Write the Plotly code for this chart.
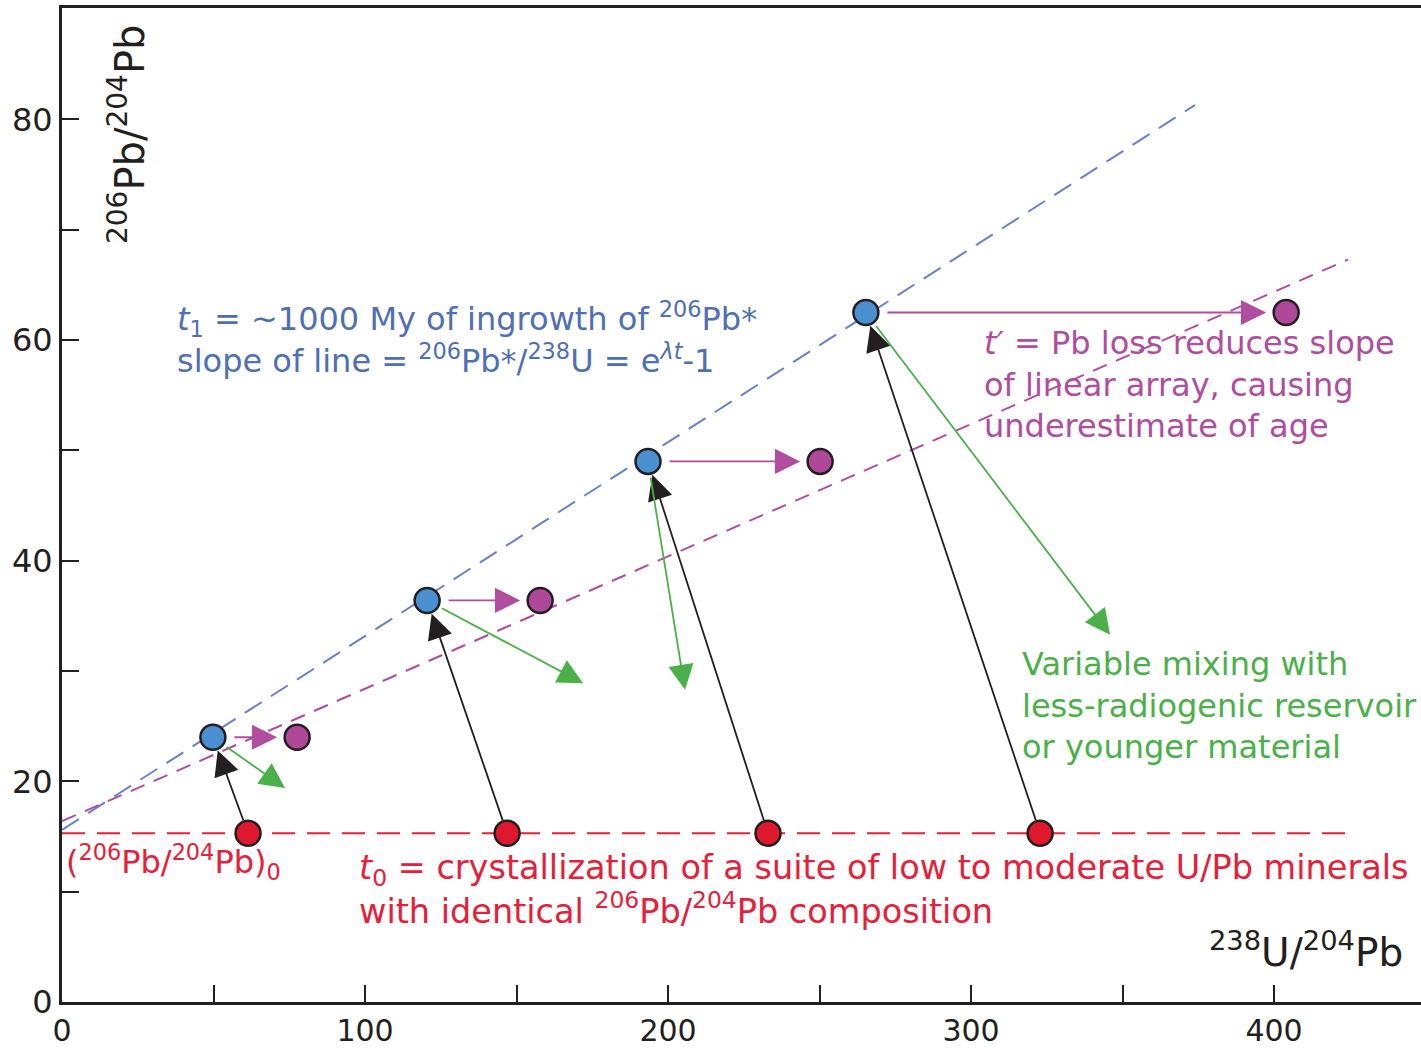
import plotly.graph_objects as go

# --- data -------------------------------------------------------------
# t0: crystallization, identical initial 206Pb/204Pb
u_pb_t0 = [61.4, 146.9, 233.0, 322.8]
pb_pb_t0 = [15.3, 15.3, 15.3, 15.3]

# t1: after ~1000 My of ingrowth
u_pb_t1 = [49.8, 120.5, 193.4, 265.3]
pb_pb_t1 = [24.0, 36.4, 49.0, 62.5]

# t': after Pb loss
u_pb_loss = [77.6, 157.8, 250.2, 404.0]
pb_pb_loss = [24.0, 36.4, 49.0, 62.5]

# end points of the mixing vectors
u_pb_mix = [73.6, 172.0, 205.6, 345.9]
pb_pb_mix = [19.4, 28.9, 28.3, 33.3]

# reference lines
isochron_x = [0, 373.9]
isochron_y = [15.6, 81.3]
loss_line_x = [0, 424.4]
loss_line_y = [16.4, 67.3]
initial_x = [0, 424.4]
initial_y = [15.3, 15.3]

x_ticks = [0, 100, 200, 300, 400]
x_minor_ticks = [50, 150, 250, 350, 450]
y_ticks = [0, 20, 40, 60, 80]
y_minor_ticks = [10, 30, 50, 70]

# --- styling ----------------------------------------------------------
FONT = "DejaVu Sans"
INK = "#231f20"
BLUE_LINE = "#6b80c6"
BLUE_TXT = "#4f6fb6"
BLUE_PT = "#4a8fd0"
PURPLE = "#b04d9e"
PURPLE_PT = "#b0489a"
RED = "#e5203a"
RED_PT = "#e0182d"
GREEN = "#4cb04a"

fig = go.Figure()

fig.add_trace(go.Scatter(x=isochron_x, y=isochron_y, mode="lines",
                         line=dict(color=BLUE_LINE, width=2, dash="20px,11px"),
                         hoverinfo="skip"))
fig.add_trace(go.Scatter(x=loss_line_x, y=loss_line_y, mode="lines",
                         line=dict(color=PURPLE, width=2, dash="15px,10px"),
                         hoverinfo="skip"))
fig.add_trace(go.Scatter(x=initial_x, y=initial_y, mode="lines",
                         line=dict(color=RED, width=2, dash="23px,12px"),
                         hoverinfo="skip"))

annotations = []

def arrow(x0, y0, x1, y1, color, start_off, end_off, size=2.8):
    annotations.append(dict(
        x=x1, y=y1, ax=x0, ay=y0, xref="x", yref="y", axref="x", ayref="y",
        text="", showarrow=True, arrowhead=2, arrowsize=size, arrowwidth=1.8,
        arrowcolor=color, standoff=end_off, startstandoff=start_off))

for i in range(len(u_pb_t0)):
    arrow(u_pb_t0[i], pb_pb_t0[i], u_pb_t1[i], pb_pb_t1[i], INK, 12, 14)
    arrow(u_pb_t1[i], pb_pb_t1[i], u_pb_loss[i], pb_pb_loss[i], PURPLE, 20, 20)
    arrow(u_pb_t1[i], pb_pb_t1[i], u_pb_mix[i], pb_pb_mix[i], GREEN, 15, 0)

fig.add_trace(go.Scatter(x=u_pb_t0, y=pb_pb_t0, mode="markers",
                         marker=dict(size=25, color=RED_PT, line=dict(color=INK, width=2.5))))
fig.add_trace(go.Scatter(x=u_pb_t1, y=pb_pb_t1, mode="markers",
                         marker=dict(size=25, color=BLUE_PT, line=dict(color=INK, width=2.5))))
fig.add_trace(go.Scatter(x=u_pb_loss, y=pb_pb_loss, mode="markers",
                         marker=dict(size=25, color=PURPLE_PT, line=dict(color=INK, width=2.5))))

def label(x, y, text, color, size=32, angle=0, xanchor="left"):
    annotations.append(dict(
        x=x, y=y, xref="x", yref="y", text=text, showarrow=False,
        xanchor=xanchor, yanchor="middle", align="left", textangle=angle,
        font=dict(family=FONT, size=size, color=color)))

label(37.3, 60.15,
      "<i>t</i><sub>1</sub> = ~1000 My of ingrowth of <sup>206</sup>Pb*<br>"
      "slope of line = <sup>206</sup>Pb*/<sup>238</sup>U = e<sup><i>λt</i></sup>-1",
      BLUE_TXT)
label(303.6, 56.0,
      "<i>t′</i> = Pb loss reduces slope<br>of linear array, causing<br>underestimate of age",
      PURPLE)
label(316.2, 26.9,
      "Variable mixing with<br>less-radiogenic reservoir<br>or younger material",
      GREEN)
label(0.8, 12.7, "(<sup>206</sup>Pb/<sup>204</sup>Pb)<sub>0</sub>", RED)
label(97.4, 10.2,
      "<i>t</i><sub>0</sub> = crystallization of a suite of low to moderate U/Pb minerals<br>"
      "with identical <sup>206</sup>Pb/<sup>204</sup>Pb composition",
      RED, size=33.5)
label(410.5, 4.7, "<sup>238</sup>U/<sup>204</sup>Pb", INK, size=39, xanchor="center")
label(21.5, 78.6, "<sup>206</sup>Pb/<sup>204</sup>Pb", INK, size=40, angle=-90,
      xanchor="center")

fig.update_layout(
    width=1421, height=1048,
    margin=dict(l=62, r=0, t=8, b=46, autoexpand=False),
    paper_bgcolor="white", plot_bgcolor="white",
    showlegend=False,
    annotations=annotations,
    font=dict(family=FONT, color=INK),
)
fig.update_xaxes(range=[0, 448.5], showgrid=False, zeroline=False,
                 showline=True, linewidth=3, linecolor=INK, mirror=True,
                 ticks="inside", ticklen=17, tickwidth=2, tickcolor=INK,
                 tickvals=x_ticks,
                 minor=dict(tickvals=x_minor_ticks, ticks="inside", ticklen=17,
                            tickwidth=2, tickcolor=INK, showgrid=False),
                 tickfont=dict(family=FONT, size=30, color=INK))
fig.update_yaxes(range=[0, 90.1], showgrid=False, zeroline=False,
                 showline=True, linewidth=3, linecolor=INK,
                 ticks="inside", ticklen=17, tickwidth=2, tickcolor=INK,
                 tickvals=y_ticks,
                 minor=dict(tickvals=y_minor_ticks, ticks="inside", ticklen=17,
                            tickwidth=2, tickcolor=INK, showgrid=False),
                 tickfont=dict(family=FONT, size=32, color=INK))

fig.write_html("out.html")
